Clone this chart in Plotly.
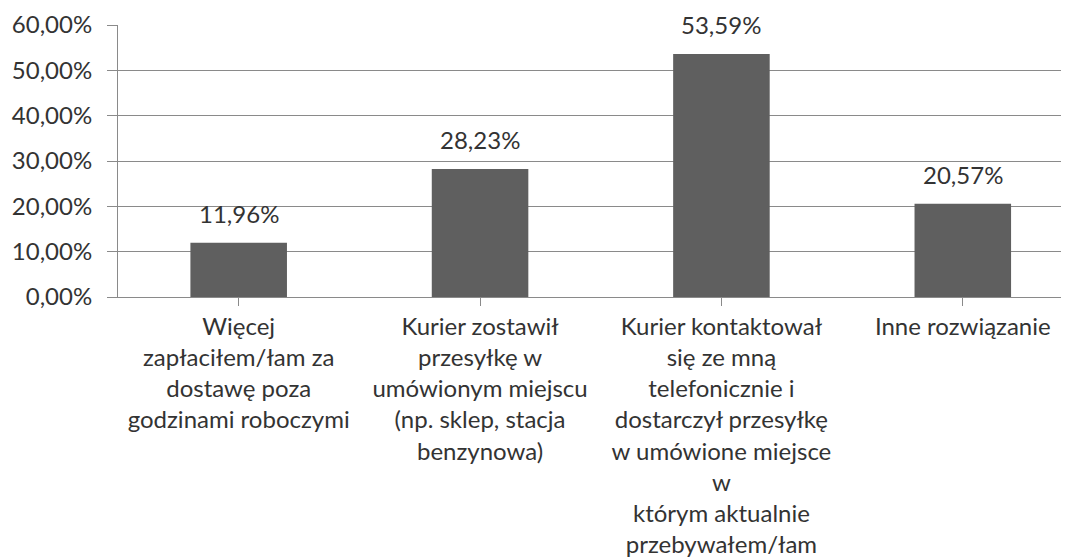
import plotly.graph_objects as go

# Categories (x-axis labels, line breaks as in the source chart)
categories = [
    "Więcej<br>zapłaciłem/łam za<br>dostawę poza<br>godzinami roboczymi",
    "Kurier zostawił<br>przesyłkę w<br>umówionym miejscu<br>(np. sklep, stacja<br>benzynowa)",
    "Kurier kontaktował<br>się ze mną<br>telefonicznie i<br>dostarczył przesyłkę<br>w umówione miejsce<br>w<br>którym aktualnie<br>przebywałem/łam",
    "Inne rozwiązanie",
]
shares = [0.1196, 0.2823, 0.5359, 0.2057]
y_ticks = [0, 0.1, 0.2, 0.3, 0.4, 0.5, 0.6]

FONT = "Lato, 'Open Sans', sans-serif"
TEXT = "#333333"
GRID = "#8a8a8a"
SIZE = 24

x_pos = list(range(len(categories)))

fig = go.Figure(
    go.Bar(
        x=x_pos,
        y=shares,
        width=0.4,
        marker=dict(color="#5f5f5f", line=dict(width=0)),
        hovertemplate="%{y:.2%}<extra></extra>",
    )
)

# value labels above the bars
for x, v in zip(x_pos, shares):
    fig.add_annotation(
        x=x, y=v, text=f"{v:.2%}".replace(".", ","),
        showarrow=False, yanchor="bottom", yshift=13,
        font=dict(family=FONT, size=SIZE, color=TEXT),
    )

# page body adds an 8px margin, so the figure is 8px smaller on each side
fig.update_layout(
    width=1061,
    height=551,
    margin=dict(l=110, r=0, t=17, b=262),
    paper_bgcolor="white",
    plot_bgcolor="white",
    separators=", ",
    showlegend=False,
    font=dict(family=FONT, size=SIZE, color=TEXT),
)

fig.update_xaxes(
    range=[-0.5, 3.44],
    tickmode="array",
    tickvals=x_pos,
    ticktext=categories,
    ticks="outside",
    tickson="boundaries",
    ticklen=8,
    tickcolor=GRID,
    showline=True,
    linecolor=GRID,
    linewidth=1,
    showgrid=False,
    tickangle=0,
    automargin=False,
    tickfont=dict(family=FONT, size=SIZE, color=TEXT),
)

fig.update_yaxes(
    range=[0, 0.6],
    tickmode="array",
    tickvals=y_ticks,
    tickformat=".2%",
    ticks="outside",
    ticklen=10,
    tickcolor=GRID,
    showline=True,
    linecolor=GRID,
    linewidth=1,
    showgrid=True,
    gridcolor=GRID,
    gridwidth=1,
    zeroline=False,
    automargin=False,
    ticklabelstandoff=10,
    tickfont=dict(family=FONT, size=SIZE, color=TEXT),
)

fig.write_html("out.html")
